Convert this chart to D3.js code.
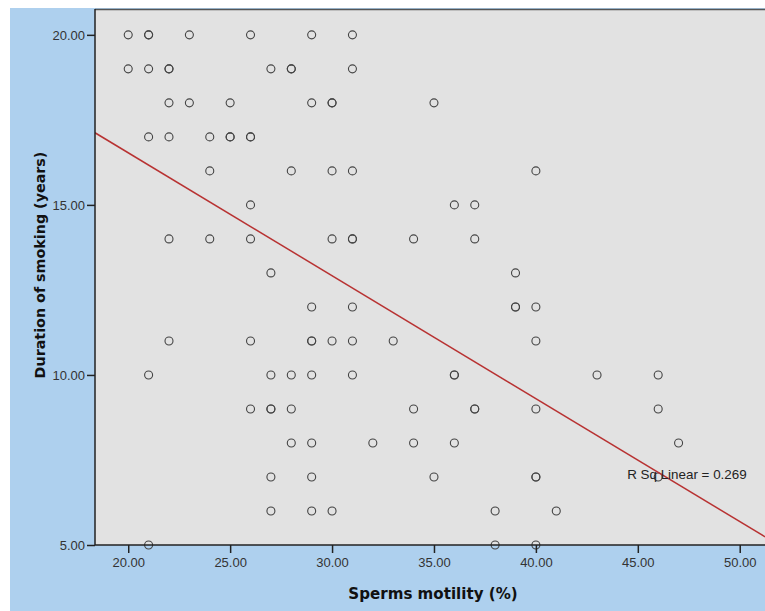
<!DOCTYPE html>
<html>
<head>
<meta charset="utf-8">
<script src="https://cdn.jsdelivr.net/npm/d3@7"></script>
<style>
  body { margin: 0; background: #fff; }
  svg { display: block; font-family: Arial, "Liberation Sans", sans-serif; }
</style>
</head>
<body>
<div id="chart"></div>
<script>
// motility (%) and smoking duration (years); repeated pairs are overlapping points
var motility = [20,21,21,23,26,29,31,
  20,21,22,22,27,28,28,31,
  22,23,25,29,30,30,35,
  21,22,24,25,25,26,26,
  24,28,30,31,40,
  26,36,37,
  22,24,26,30,31,31,34,37,
  27,39,
  29,31,39,39,40,
  22,26,29,29,30,31,33,40,
  21,27,28,29,31,36,36,43,46,
  26,27,27,28,34,37,37,40,46,
  28,29,32,34,36,47,
  27,29,35,40,40,46,
  27,29,30,38,41,
  21,38,40];
var duration = [20,20,20,20,20,20,20,
  19,19,19,19,19,19,19,19,
  18,18,18,18,18,18,18,
  17,17,17,17,17,17,17,
  16,16,16,16,16,
  15,15,15,
  14,14,14,14,14,14,14,14,
  13,13,
  12,12,12,12,12,
  11,11,11,11,11,11,11,11,
  10,10,10,10,10,10,10,10,10,
  9,9,9,9,9,9,9,9,9,
  8,8,8,8,8,8,
  7,7,7,7,7,7,
  6,6,6,6,6,
  5,5,5];
var xTicks = [20, 25, 30, 35, 40, 45, 50];
var yTicks = [5, 10, 15, 20];
// linear fit as drawn
var fitSlope = -0.3614;
var fitIntercept = 23.76;
var rSqLabel = "R Sq Linear = 0.269";

var width = 765, height = 611;
var plot = { left: 95, top: 9, right: 765, bottom: 545 };

var svg = d3.select("#chart").append("svg")
  .attr("width", width)
  .attr("height", height);

svg.append("rect")
  .attr("x", 10).attr("y", 8)
  .attr("width", width - 10).attr("height", height - 8)
  .attr("fill", "#aed0ee");

var x = d3.scaleLinear().domain([18.37, 51.24]).range([plot.left, plot.right]);
var y = d3.scaleLinear().domain([5, 20.76]).range([plot.bottom, plot.top]);

svg.append("rect")
  .attr("x", plot.left).attr("y", plot.top)
  .attr("width", plot.right - plot.left).attr("height", plot.bottom - plot.top)
  .attr("fill", "#e2e2e2");

svg.append("line")
  .attr("x1", plot.left).attr("x2", plot.right)
  .attr("y1", plot.top + 0.5).attr("y2", plot.top + 0.5)
  .attr("stroke", "#555").attr("stroke-width", 1.5);

svg.append("clipPath").attr("id", "clip")
  .append("rect")
  .attr("x", plot.left).attr("y", plot.top)
  .attr("width", plot.right - plot.left).attr("height", plot.bottom - plot.top + 6);

var pts = motility.map(function(m, i) { return { m: m, d: duration[i] }; });

svg.append("g")
  .attr("clip-path", "url(#clip)")
  .selectAll("circle")
  .data(pts)
  .enter()
  .append("circle")
  .attr("cx", function(d) { return x(d.m); })
  .attr("cy", function(d) { return y(d.d); })
  .attr("r", 4)
  .attr("fill", "none")
  .attr("stroke", "#444")
  .attr("stroke-width", 1.1);

var xs = x.domain();
svg.append("line")
  .attr("clip-path", "url(#clip)")
  .attr("x1", x(xs[0])).attr("y1", y(fitIntercept + fitSlope * xs[0]))
  .attr("x2", x(xs[1])).attr("y2", y(fitIntercept + fitSlope * xs[1]))
  .attr("stroke", "#b83232")
  .attr("stroke-width", 1.5);

svg.append("text")
  .attr("x", x(46) - 31)
  .attr("y", y(7) + 2)
  .attr("font-size", 13.4)
  .attr("fill", "#222")
  .text(rSqLabel);

var xAxis = svg.append("g")
  .attr("transform", "translate(0," + plot.bottom + ")")
  .call(d3.axisBottom(x).tickValues(xTicks).tickSize(8).tickSizeOuter(0)
    .tickFormat(d3.format(".2f")));
xAxis.select(".domain").attr("stroke", "#222").attr("stroke-width", 1.5)
  .attr("d", "M" + plot.left + ",0H" + plot.right);
xAxis.selectAll(".tick line").attr("stroke", "#222").attr("stroke-width", 1.5);
xAxis.selectAll(".tick text").attr("font-size", 13).attr("fill", "#333")
  .attr("font-family", "Arial, 'Liberation Sans', sans-serif").attr("dy", "0.85em");

var yAxis = svg.append("g")
  .attr("transform", "translate(" + plot.left + ",0)")
  .call(d3.axisLeft(y).tickValues(yTicks).tickSize(8).tickSizeOuter(0)
    .tickFormat(d3.format(".2f")));
yAxis.select(".domain").attr("stroke", "#222").attr("stroke-width", 1.5)
  .attr("d", "M0," + plot.top + "V" + plot.bottom);
yAxis.selectAll(".tick line").attr("stroke", "#222").attr("stroke-width", 1.5);
yAxis.selectAll(".tick text").attr("font-size", 13).attr("fill", "#333")
  .attr("font-family", "Arial, 'Liberation Sans', sans-serif").attr("x", -10);

svg.append("text")
  .attr("x", 433)
  .attr("y", 599)
  .attr("text-anchor", "middle")
  .attr("font-family", "'DejaVu Sans', sans-serif")
  .attr("font-size", 15.1)
  .attr("font-weight", "bold")
  .attr("fill", "#111")
  .text("Sperms motility (%)");

svg.append("text")
  .attr("transform", "translate(45,265) rotate(-90)")
  .attr("text-anchor", "middle")
  .attr("font-family", "'DejaVu Sans', sans-serif")
  .attr("font-size", 14.3)
  .attr("font-weight", "bold")
  .attr("fill", "#111")
  .text("Duration of smoking (years)");
</script>
</body>
</html>
